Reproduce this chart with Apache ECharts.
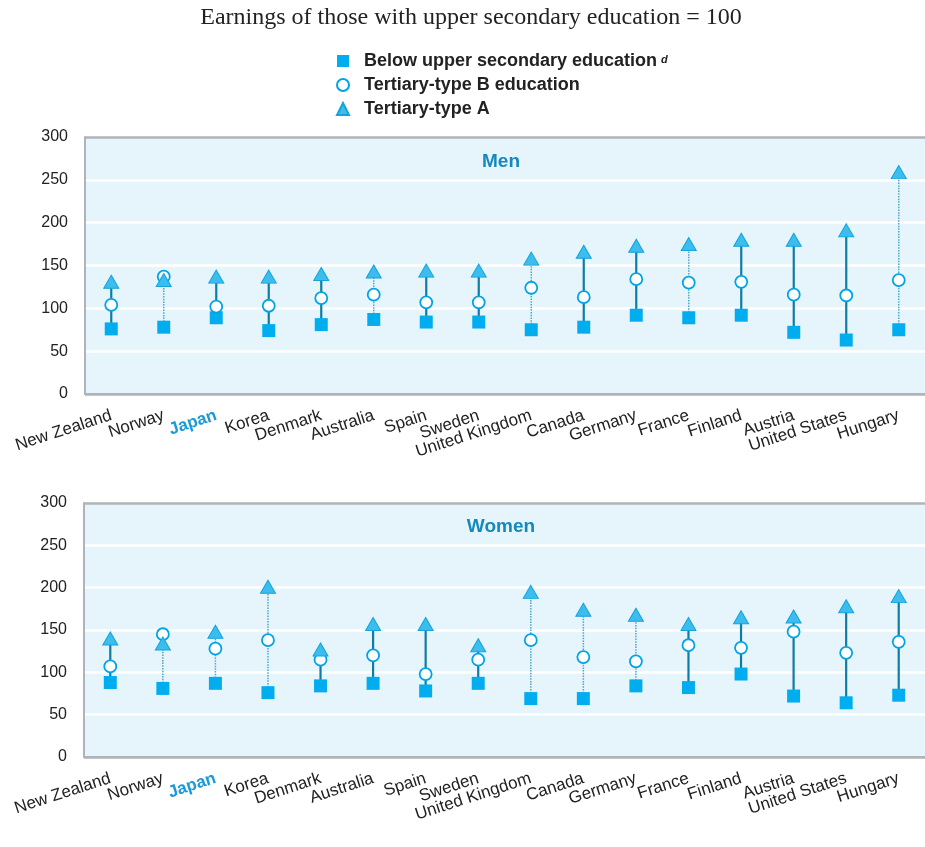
<!DOCTYPE html>
<html><head><meta charset="utf-8">
<script src="https://cdn.jsdelivr.net/npm/echarts@6/dist/echarts.min.js"></script>
<style>html,body{margin:0;padding:0;background:#fff}#c{width:925px;height:847px}</style>
</head><body><div id="c"></div>
<script>
const countries = ['New Zealand','Norway','Japan','Korea','Denmark','Australia','Spain','Sweden','United Kingdom','Canada','Germany','France','Finland','Austria','United States','Hungary'];
const yTicks = [0,50,100,150,200,250,300];
const menBelow = [76,78,89,74,81,87,84,84,75,78,92,89,92,72,63,75];
const menTertB = [104,137,102,103,112,116,107,107,124,113,134,130,131,116,115,133];
const menTertA = [131,133,137,137,140,143,144,144,158,166,173,175,180,180,191,259];
const womenBelow = [88,81,87,76,84,87,78,87,69,69,84,82,98,72,64,73];
const womenTertB = [107,145,128,138,115,120,98,115,138,118,113,132,129,148,123,136];
const womenTertA = [140,134,148,201,127,157,157,132,195,174,168,157,165,166,178,190];
// line style flags (dotted connector) per country
const menDotted = [0,1,0,0,0,1,0,0,1,0,0,1,0,0,0,1];
const womenDotted = [0,1,1,1,0,0,0,0,1,1,1,0,0,0,0,0];

const NAME_BELOW = 'Below upper secondary education';
const NAME_B = 'Tertiary-type B education';
const NAME_A = 'Tertiary-type A';
const FONT = '"Liberation Sans", Arial, sans-serif';

const chart = echarts.init(document.getElementById('c'));

function xAxis(gridIndex){
  return {
    type:'category', gridIndex, data: countries, boundaryGap:true,
    axisTick:{show:false},
    axisLine:{show:true, lineStyle:{color:'#B0B4B8', width:2}},
    axisLabel:{
      interval:0, rotate:18, margin:21, fontSize:17, color:'#222', fontFamily:FONT,
      formatter: v => v === 'Japan' ? '{j|' + v + '}' : v,
      rich:{ j:{color:'#1A9AD6', fontWeight:'bold', fontSize:17, fontFamily:FONT} }
    }
  };
}
function yAxis(gridIndex){
  return {
    type:'value', gridIndex, min:yTicks[0], max:yTicks[yTicks.length-1], interval:50,
    axisLine:{show:true, lineStyle:{color:'#B0B4B8', width:2}},
    axisTick:{show:false},
    axisLabel:{fontSize:16, color:'#222', margin:17, fontFamily:FONT},
    splitLine:{show:true, lineStyle:{color:['#B0B4B8','#fff','#fff','#fff','#fff','#fff','#B0B4B8'], width:2.5}}
  };
}
function lineSeries(idx, below, tA, dotted){
  return {
    type:'custom', xAxisIndex:idx, yAxisIndex:idx, z:1, silent:true,
    data: countries.map((c,i)=>[i, below[i], tA[i], dotted[i]]),
    renderItem:(params, api)=>{
      const lo = api.coord([api.value(0), api.value(1)]);
      const hi = api.coord([api.value(0), api.value(2)]);
      const d = api.value(3) === 1;
      return {type:'line', shape:{x1:lo[0], y1:lo[1], x2:hi[0], y2:hi[1]},
        style:{stroke: d ? '#4FA6C9' : '#0F7CA6', lineWidth: d ? 1.5 : 2.2, lineDash: d ? [1.5,1.2] : null}};
    }
  };
}
function markerSeries(idx, below, tB, tA){
  return [
    {name:NAME_BELOW, type:'scatter', xAxisIndex:idx, yAxisIndex:idx, z:3, symbol:'rect', symbolSize:13,
     itemStyle:{color:'#00AEEF', opacity:1}, data: below},
    {name:NAME_B, type:'scatter', xAxisIndex:idx, yAxisIndex:idx, z:4, symbol:'circle', symbolSize:12,
     itemStyle:{color:'#fff', borderColor:'#00A3E6', borderWidth:1.8, opacity:1}, data: tB},
    {name:NAME_A, type:'scatter', xAxisIndex:idx, yAxisIndex:idx, z:5, symbol:'triangle', symbolSize:[15,13],
     itemStyle:{color:'#3CBDEE', borderColor:'#12A4DE', borderWidth:1, opacity:1}, data: tA}
  ];
}

chart.setOption({
  animation:false,
  backgroundColor:'#fff',
  title:[
    {text:'Earnings of those with upper secondary education = 100', left:466, top:1, textAlign:'center',
     textStyle:{fontFamily:'"Liberation Serif", "Times New Roman", serif', fontSize:24, fontWeight:'normal', color:'#222'}},
    {text:'Men', left:496, top:147, textAlign:'center', textStyle:{fontFamily:FONT, fontSize:19, fontWeight:'bold', color:'#1589BE'}},
    {text:'Women', left:496, top:512, textAlign:'center', textStyle:{fontFamily:FONT, fontSize:19, fontWeight:'bold', color:'#1589BE'}}
  ],
  legend:{
    orient:'vertical', left:331, top:47, itemWidth:12, itemHeight:12, itemGap:6,
    data:[NAME_BELOW, NAME_B, NAME_A],
    formatter: n => n === NAME_BELOW ? '{t|' + n + '}{s|d}' : '{t|' + n + '}',
    textStyle:{
      fontFamily:FONT, fontSize:18, fontWeight:'bold', color:'#222',
      rich:{
        t:{fontFamily:FONT, fontSize:18, fontWeight:'bold', color:'#222', lineHeight:14, padding:[0,0,0,10]},
        s:{fontFamily:FONT, fontSize:11, fontWeight:'bold', fontStyle:'italic', color:'#222', verticalAlign:'top', lineHeight:8, padding:[0,0,0,4]}
      }
    }
  },
  grid:[
    {left:85, top:137, width:845, height:257, show:true, backgroundColor:'#E6F5FC', borderWidth:0},
    {left:84, top:503, width:846, height:254, show:true, backgroundColor:'#E6F5FC', borderWidth:0}
  ],
  xAxis:[xAxis(0), xAxis(1)],
  yAxis:[yAxis(0), yAxis(1)],
  series:[
    lineSeries(0, menBelow, menTertA, menDotted),
    ...markerSeries(0, menBelow, menTertB, menTertA),
    lineSeries(1, womenBelow, womenTertA, womenDotted),
    ...markerSeries(1, womenBelow, womenTertB, womenTertA)
  ]
});
</script></body></html>
